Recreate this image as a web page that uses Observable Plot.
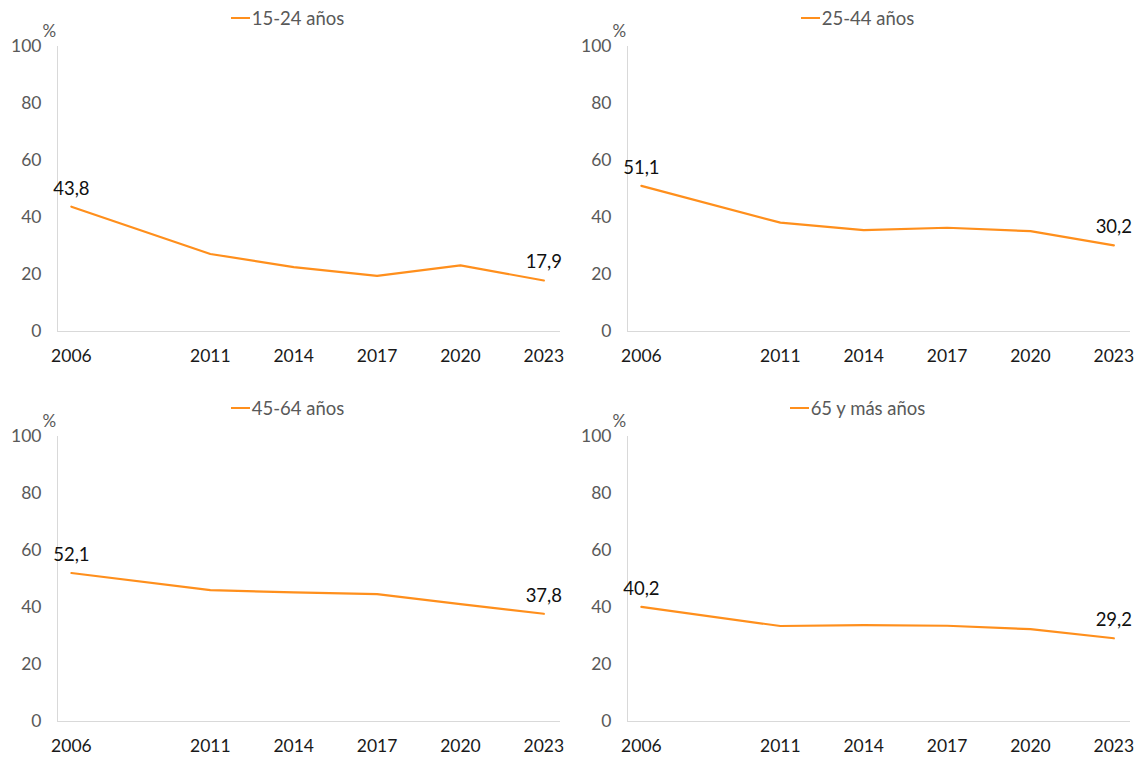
<!DOCTYPE html>
<html>
<head>
<meta charset="utf-8">
<script src="https://cdn.jsdelivr.net/npm/d3@7"></script>
<script src="https://cdn.jsdelivr.net/npm/@observablehq/plot@0.6"></script>
<style>
  html, body { margin: 0; padding: 0; background: #fff; overflow: hidden; }
  #grid { display: grid; grid-template-columns: 570px 568px; grid-template-rows: 390px 390px; }
  .panel { position: relative; width: 569px; height: 390px; }
  .legend { position: absolute; left: 0; top: 5px; width: 100%; height: 26px; display: flex; justify-content: center; align-items: center;
            font-family: Lato, "Open Sans", sans-serif; font-size: 18.5px; color: #595959; padding-left: 6px; box-sizing: border-box; }
  .legend .sw { display: inline-block; width: 19px; height: 2px; background: #ff8f1c; margin-right: 2px; }
  svg { display: block; }
</style>
</head>
<body>
<div id="grid"></div>
<script>
const years = [2006, 2011, 2014, 2017, 2020, 2023];
const groups = ["15-24 años", "25-44 años", "45-64 años", "65 y más años"];
const v15_24 = [43.8, 27.2, 22.6, 19.5, 23.2, 17.9];
const v25_44 = [51.1, 38.2, 35.6, 36.4, 35.2, 30.2];
const v45_64 = [52.1, 46.1, 45.3, 44.7, 41.2, 37.8];
const v65 = [40.2, 33.5, 33.8, 33.6, 32.4, 29.2];
const yTicks = [0, 20, 40, 60, 80, 100];
const series = [v15_24, v25_44, v45_64, v65];

const ORANGE = "#ff8f1c";
const fmt = v => v.toFixed(1).replace(".", ",");
const grid = document.getElementById("grid");

series.forEach((vals, i) => {
  const data = years.map((y, j) => ({year: y, v: vals[j]}));
  const ends = [data[0], data[data.length - 1]];
  const panel = document.createElement("div");
  panel.className = "panel";

  const chart = Plot.plot({
    width: 569,
    height: 390,
    marginTop: 46,
    marginBottom: 59,
    marginLeft: 57,
    marginRight: 9,
    style: {fontFamily: "Lato, 'Open Sans', sans-serif", fontSize: "17px", background: "#fff"},
    x: {domain: [2005.5, 2023.6], ticks: years, tickFormat: d => String(d), tickSize: 0, tickPadding: 18, label: null},
    y: {domain: [0, 100], ticks: yTicks, tickSize: 0, tickPadding: 16, label: null},
    marks: [
      Plot.ruleX([2005.5], {y1: 0, y2: 100, stroke: "#d9d9d9", strokeWidth: 1}),
      Plot.ruleY([0], {stroke: "#d9d9d9", strokeWidth: 1}),
      Plot.axisY({ticks: yTicks, tickSize: 0, tickPadding: 16, fill: "#595959", fontSize: 17.5, label: null}),
      Plot.axisX({ticks: years, tickFormat: d => String(d), tickSize: 0, tickPadding: 18, fill: "#1a1a1a", fontSize: 17.5, label: null}),
      Plot.line(data, {x: "year", y: "v", stroke: ORANGE, strokeWidth: 2.2}),
      Plot.text(ends, {x: "year", y: "v", text: d => fmt(d.v), dy: -18, fill: "#111", fontSize: 18.5}),
      Plot.text(["%"], {frameAnchor: "top-left", dx: -15, dy: -22, fill: "#595959", fontSize: 17, textAnchor: "start"})
    ]
  });
  panel.appendChild(chart);
  const leg = document.createElement("div");
  leg.className = "legend";
  leg.innerHTML = `<span class="sw"></span><span>${groups[i]}</span>`;
  panel.appendChild(leg);
  grid.appendChild(panel);
});
</script>
</body>
</html>
